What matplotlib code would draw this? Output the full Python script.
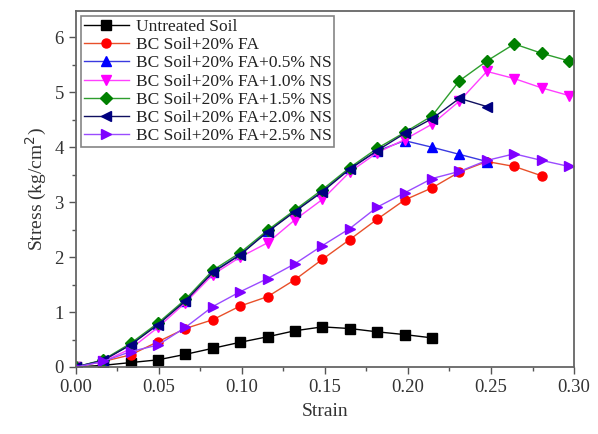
import numpy as np
import matplotlib
matplotlib.use("Agg")
import matplotlib.pyplot as plt
from matplotlib.ticker import MultipleLocator

# strain step between readings
step = 0.0165

untreated = [0, 0.03, 0.08, 0.13, 0.23, 0.34, 0.45, 0.55, 0.66, 0.73, 0.70, 0.64, 0.59, 0.53]
fa20 = [0, 0.10, 0.22, 0.46, 0.70, 0.86, 1.11, 1.28, 1.59, 1.96, 2.32, 2.69, 3.04, 3.26, 3.55, 3.74, 3.65, 3.48]
ns05 = [0, 0.12, 0.41, 0.78, 1.21, 1.73, 2.05, 2.47, 2.84, 3.20, 3.62, 3.93, 4.12, 4.00, 3.87, 3.74]
ns10 = [0, 0.10, 0.33, 0.72, 1.17, 1.68, 2.00, 2.26, 2.68, 3.05, 3.55, 3.90, 4.14, 4.42, 4.84, 5.38, 5.25, 5.08, 4.94]
ns15 = [0, 0.13, 0.43, 0.80, 1.23, 1.76, 2.08, 2.49, 2.86, 3.23, 3.63, 3.98, 4.27, 4.57, 5.21, 5.57, 5.88, 5.71, 5.57]
ns20 = [0, 0.12, 0.40, 0.77, 1.20, 1.72, 2.04, 2.46, 2.83, 3.19, 3.60, 3.94, 4.25, 4.52, 4.89, 4.74]
ns25 = [0, 0.10, 0.28, 0.40, 0.72, 1.10, 1.37, 1.61, 1.88, 2.21, 2.52, 2.91, 3.17, 3.43, 3.56, 3.76, 3.88, 3.76, 3.65]

labels = ['Untreated Soil', 'BC Soil+20% FA', 'BC Soil+20% FA+0.5% NS',
          'BC Soil+20% FA+1.0% NS', 'BC Soil+20% FA+1.5% NS',
          'BC Soil+20% FA+2.0% NS', 'BC Soil+20% FA+2.5% NS']
series = [untreated, fa20, ns05, ns10, ns15, ns20, ns25]
colors = ['black', 'red', 'blue', 'magenta', 'green', '#000080', '#7f00ff']
line_colors = ['black', '#e8502a', '#3a3ae0', '#ff40ff', '#2e9e2e', '#101060', '#9a4cff']
markers = ['s', 'o', '^', 'v', 'D', '<', '>']
sizes = [6.5, 6.5, 7.5, 7.5, 6, 7.5, 7.5]

plt.rcParams['font.family'] = ['Liberation Serif']

fig = plt.figure(figsize=(5.98, 4.34), dpi=100)
ax = fig.add_axes([0.1266, 0.1544, 0.8334, 0.8203])

for vals, lab, c, lc, m, s in zip(series, labels, colors, line_colors, markers, sizes):
    x = np.arange(len(vals)) * step
    ax.plot(x, vals, color=lc, lw=1.0, marker=m, ms=s, mfc=c, mec=c, label=lab)

ax.set_xlim(0, 0.30)
ax.set_ylim(0, 6.48)
ax.xaxis.set_major_locator(MultipleLocator(0.05))
ax.xaxis.set_minor_locator(MultipleLocator(0.025))
ax.yaxis.set_major_locator(MultipleLocator(1))
ax.yaxis.set_minor_locator(MultipleLocator(0.5))
ax.xaxis.set_major_formatter(matplotlib.ticker.FormatStrFormatter('%.2f'))
ax.tick_params(which='major', length=5, width=1, color='#555555', labelsize=13.5, colors='#333333')
ax.tick_params(which='minor', length=3, width=1, color='#555555')
for sp in ax.spines.values():
    sp.set_color('#666666')
    sp.set_linewidth(1.3)

ax.set_xlabel('Strain', fontsize=14, color='#333333', labelpad=5)
ax.set_ylabel('Stress (kg/cm$^2$)', fontsize=14, color='#333333', labelpad=4)

leg = ax.legend(loc='upper left', fontsize=12.5, frameon=True, fancybox=False,
                borderpad=0.15, labelspacing=0.12, handlelength=2.6, handletextpad=0.4,
                borderaxespad=0.3)
leg.get_frame().set_edgecolor('#666666')
leg.get_frame().set_linewidth(1.2)
for t in leg.get_texts():
    t.set_color('#222222')

fig.savefig('out.png', dpi=100)
